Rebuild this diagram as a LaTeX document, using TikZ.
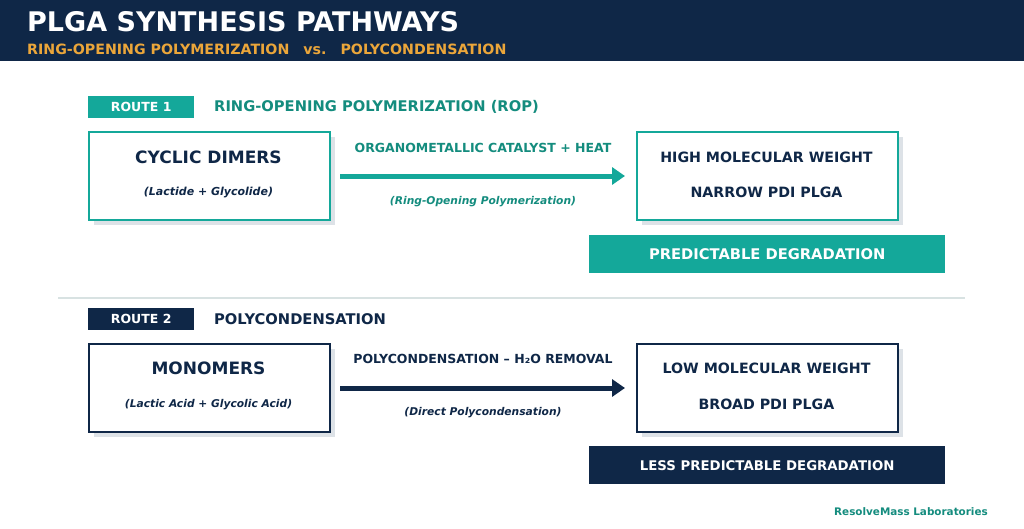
\documentclass[tikz,border=0pt]{standalone}
\usepackage{fontspec}
\setmainfont{DejaVu Sans}
\usetikzlibrary{arrows.meta}
\definecolor{navy}{HTML}{0F2747}
\definecolor{teal}{HTML}{14A89A}
\definecolor{tealtxt}{HTML}{148C7E}
\definecolor{orng}{HTML}{EBA63A}
\definecolor{shade}{HTML}{DDE2E7}
\definecolor{sepc}{HTML}{D8E2E2}
\tikzset{
  fs/.style={font=\fontsize{#1}{#1}\selectfont\bfseries},
  fsi/.style={font=\fontsize{#1}{#1}\selectfont\bfseries\itshape},
  stagebox/.style={draw=#1, line width=2pt, fill=white, minimum width=241pt, minimum height=88pt, anchor=north west, inner sep=0pt},
  shadowbox/.style={fill=shade, minimum width=241pt, minimum height=88pt, anchor=north west, inner sep=0pt},
  widebox/.style={minimum width=261pt},
  tagbox/.style={fill=#1, minimum width=106pt, minimum height=22pt, anchor=north west, inner sep=0pt, text=white},
  banner/.style={fill=#1, minimum width=356pt, minimum height=38pt, anchor=north west, inner sep=0pt, text=white},
  flow/.style={draw=#1, line width=5pt, -{Triangle[length=13pt,width=17pt]}},
}
\begin{document}
\begin{tikzpicture}[x=1pt,y=-1pt]
\useasboundingbox (0,0) rectangle (1024,528);
\fill[white] (0,0) rectangle (1024,528);
% header
\fill[navy] (0,0) rectangle (1024,61);
\node[fs=27, text=white, anchor=base west, inner sep=0pt] (title) at (27,31) {PLGA SYNTHESIS PATHWAYS};
\node[fs=14.2, text=orng, anchor=base west, inner sep=0pt] (sub) at (27,54) {RING-OPENING POLYMERIZATION\hspace{14pt}vs.\hspace{14pt}POLYCONDENSATION};

% route 1
\node[tagbox=teal, fs=12.5] (tag1) at (88,96) {ROUTE 1};
\node[fs=14.7, text=tealtxt, anchor=west, inner sep=0pt] (rt1) at (214,107) {RING-OPENING POLYMERIZATION (ROP)};

\node[shadowbox] (sh1) at (94,137) {};
\node[stagebox=teal] (cyc) at (88,131) {};
\node[fs=17, text=navy] (cyct) at (208.5,157) {CYCLIC DIMERS};
\node[fsi=11, text=navy] (cycs) at (208.5,192.5) {(Lactide + Glycolide)};

\node[shadowbox, widebox] (sh2) at (642,137) {};
\node[stagebox=teal, widebox] (high) at (636,131) {};
\node[fs=14.2, text=navy] (hight) at (766.5,157) {HIGH MOLECULAR WEIGHT};
\node[fs=14.2, text=navy] (highs) at (766.5,192) {NARROW PDI PLGA};

\coordinate (a1s) at ([xshift=9pt]cyc.east);
\coordinate (a1e) at ([xshift=-11pt]high.west);
\draw[flow=teal] (a1s) -- (a1e);
\node[fs=12.5, text=tealtxt] (a1l) at (483,148) {ORGANOMETALLIC CATALYST + HEAT};
\node[fsi=10.7, text=tealtxt] (a1b) at (483,202) {(Ring-Opening Polymerization)};

\node[banner=teal, fs=14.7] (ban1) at (589,235) {PREDICTABLE DEGRADATION};

% separator
\coordinate (sepL) at (58,298);
\coordinate (sepR) at (965,298);
\draw[sepc, line width=2pt] (sepL) -- (sepR);

% route 2
\node[tagbox=navy, fs=12.5] (tag2) at (88,308) {ROUTE 2};
\node[fs=14.7, text=navy, anchor=west, inner sep=0pt] (rt2) at (214,319) {POLYCONDENSATION};

\node[shadowbox] (sh3) at (94,349) {};
\node[stagebox=navy] (mono) at (88,343) {};
\node[fs=17, text=navy] (monot) at (208.5,368) {MONOMERS};
\node[fsi=10.7, text=navy] (monos) at (208.5,405) {(Lactic Acid + Glycolic Acid)};

\node[shadowbox, widebox] (sh4) at (642,349) {};
\node[stagebox=navy, widebox] (low) at (636,343) {};
\node[fs=14.2, text=navy] (lowt) at (766.5,368) {LOW MOLECULAR WEIGHT};
\node[fs=14.2, text=navy] (lows) at (766.5,404) {BROAD PDI PLGA};

\coordinate (a2s) at ([xshift=9pt]mono.east);
\coordinate (a2e) at ([xshift=-11pt]low.west);
\draw[flow=navy] (a2s) -- (a2e);
\node[fs=12.5, text=navy] (a2l) at (483,359) {POLYCONDENSATION – H₂O REMOVAL};
\node[fsi=10.7, text=navy] (a2b) at (483,413) {(Direct Polycondensation)};

\node[banner=navy, fs=13.3] (ban2) at (589,446) {LESS PREDICTABLE DEGRADATION};

\node[fs=10.4, text=tealtxt, anchor=east, inner sep=0pt] (foot) at (988,512) {ResolveMass Laboratories};
\end{tikzpicture}
\end{document}
